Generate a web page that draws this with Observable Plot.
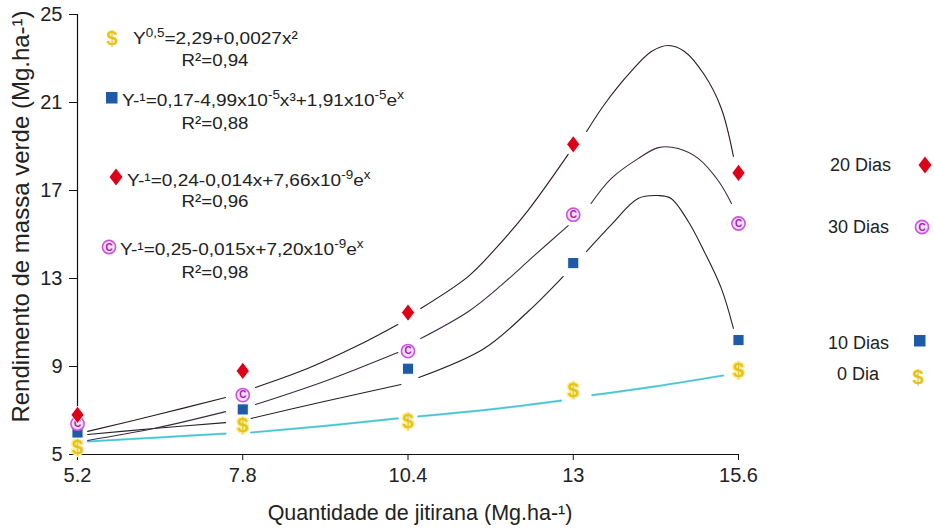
<!DOCTYPE html>
<html><head><meta charset="utf-8">
<script src="https://cdn.jsdelivr.net/npm/d3@7"></script>
<script src="https://cdn.jsdelivr.net/npm/@observablehq/plot@0.6"></script>
<style>
body{margin:0;background:#fff;}
#wrap{position:relative;width:934px;height:530px;font-family:"Liberation Sans",Arial,sans-serif;color:#222;overflow:hidden;}
#wrap svg{display:block}
.eq{position:absolute;font-size:17px;white-space:nowrap;transform-origin:left center;transform:translateY(-50%) scaleX(1.12);line-height:1;}
.eq sup{font-size:12px;position:relative;top:-7px;vertical-align:baseline;line-height:0}
.r2{position:absolute;font-size:17px;white-space:nowrap;transform:translate(-50%,-50%) scaleX(1.1);line-height:1;}
.lg{position:absolute;font-size:18px;white-space:nowrap;transform:translateY(-50%);line-height:1;}
.mk{position:absolute;transform:translate(-50%,-50%);line-height:1;}
.dl{font-weight:bold;color:#e6c21a;font-size:20px;text-shadow:0 0 2px #fbf0a0;}
</style></head>
<body>
<div id="wrap"></div>
<script>
// ---- data ----
const xTicks = [5.2, 7.8, 10.4, 13, 15.6];
const yTicks = [5, 9, 13, 17, 21, 25];
const quantidade = [5.2, 7.8, 10.4, 13, 15.6];
const dia0  = [5.3, 6.3, 6.5, 7.9, 8.8];
const dias10 = [6.0, 7.05, 8.9, 13.7, 10.2];
const dias20 = [6.8, 8.8, 11.45, 19.1, 17.8];
const dias30 = [6.4, 7.7, 9.7, 15.9, 15.5];

// fitted curves (null = break around a marker)
const curve20 = [[5.36,6.05],[6.4,6.77],[7.53,7.59],null,
  [8.0,8.05],[8.82,8.91],[9.61,9.95],[10.24,10.91],null,
  [10.6,11.64],[11.35,13.1],[11.76,14.3],[12.29,16.1],[12.92,18.64],null,
  [13.21,19.68],[13.49,20.91],[13.91,22.41],[14.23,23.32],[14.5,23.59],[14.75,23.32],[15.06,22.27],[15.33,20.73],[15.52,18.55]];
const curve30 = [[5.36,5.64],[6.4,6.18],[7.53,6.95],null,
  [8.0,7.27],[9.08,8.32],[10.24,9.64],null,
  [10.6,10.27],[11.35,11.5],[11.87,12.7],[12.39,14.05],[12.92,15.4],null,
  [13.28,16.41],[13.6,17.55],[14.02,18.45],[14.34,18.95],[14.65,18.91],[14.97,18.45],[15.29,17.41],[15.49,16.41]];
const curve10 = [[5.36,5.91],[6.4,6.18],[7.53,6.45],null,
  [7.93,6.64],[9.08,7.41],[10.29,8.18],null,
  [10.57,8.5],[11.6,9.82],[12.29,11.5],[12.84,13.09],null,
  [13.21,14.23],[13.6,15.45],[14.02,16.64],[14.34,16.77],[14.54,16.64],[14.81,15.59],[15.06,14.23],[15.33,12.55],[15.52,10.73]];
const curve0 = [[5.36,5.59],[6.45,5.77],[7.53,5.95],null,
  [7.93,6.0],[9.1,6.3],[10.24,6.64],null,
  [10.56,6.73],[11.7,7.05],[12.81,7.45],null,
  [13.3,7.7],[14.3,8.1],[15.36,8.59]];

const xLabel = "Quantidade de jitirana (Mg.ha-¹)";
const yLabel = "Rendimento de massa verde (Mg.ha-¹)";

// ---- build ----
const rows = arr => arr.map(p => p ? {x: p[0], y: p[1]} : {x: NaN, y: NaN});
const pts = vals => quantidade.map((q, i) => ({x: q, y: vals[i]}));

const tallDiamond = {
  draw(ctx, size) {
    const r = Math.sqrt(size / Math.PI);
    ctx.moveTo(0, -r * 1.08); ctx.lineTo(r * 0.82, 0);
    ctx.lineTo(0, r * 1.08); ctx.lineTo(-r * 0.82, 0); ctx.closePath();
  }
};

const chart = Plot.plot({
  width: 934, height: 530,
  marginLeft: 77, marginRight: 196, marginTop: 14, marginBottom: 76,
  x: {domain: [5.2, 15.6]},
  y: {domain: [5, 25]},
  style: {fontFamily: '"Liberation Sans", Arial, sans-serif', fontSize: "20px", color: "#222", background: "#fff"},
  marks: [
    Plot.axisX({ticks: xTicks, tickSize: 6, tickPadding: 7, label: null, tickFormat: d => String(d), stroke: "#111"}),
    Plot.axisY({ticks: yTicks, tickSize: 8, tickPadding: 7, label: null, stroke: "#111"}),
    Plot.ruleX([5.2], {stroke: "#111", strokeWidth: 1.2}),
    Plot.ruleY([5], {stroke: "#111", strokeWidth: 1.2}),
    Plot.text([xLabel], {frameAnchor: "bottom", dy: 65, dx: 12, fontSize: 21.5, fill: "#222"}),
    Plot.text([yLabel], {frameAnchor: "left", textAnchor: "middle", lineAnchor: "middle", rotate: -90, dx: -56, dy: -18, fontSize: 24, fill: "#222"}),
    Plot.line(rows(curve0), {x: "x", y: "y", stroke: "#6fdbe6", strokeWidth: 2.2, curve: "catmull-rom"}),
    Plot.line(rows(curve0), {x: "x", y: "y", stroke: "#3aaebb", strokeWidth: 0.7, curve: "catmull-rom"}),
    Plot.line(rows(curve10), {x: "x", y: "y", stroke: "#222", strokeWidth: 1.1, curve: "catmull-rom"}),
    Plot.line(rows(curve30), {x: "x", y: "y", stroke: "#3b2a40", strokeWidth: 1.1, curve: "catmull-rom"}),
    Plot.line(rows(curve20), {x: "x", y: "y", stroke: "#2a1c1c", strokeWidth: 1.1, curve: "catmull-rom"}),
    Plot.text(pts(dia0), {x: "x", y: "y", text: () => "$", fontSize: 20, fontWeight: "bold", fill: "#e6c21a", stroke: "#fbf0a0", strokeWidth: 3, paintOrder: "stroke"}),
    Plot.dot(pts(dias10), {x: "x", y: "y", symbol: "square", r: 6.3, fill: "#1e5aa8", stroke: "#fff", strokeWidth: 1}),
    Plot.dot(pts(dias30), {x: "x", y: "y", r: 6.6, fill: "#f6dcf8", stroke: "#cc55dd", strokeWidth: 1.6}),
    Plot.text(pts(dias30), {x: "x", y: "y", text: () => "C", fontSize: 10, fontWeight: "bold", fill: "#a020b0"}),
    Plot.dot(pts(dias20), {x: "x", y: "y", symbol: tallDiamond, r: 8, fill: "#dd0019", stroke: "#fff", strokeWidth: 0.8})
  ]
});

const wrap = document.getElementById("wrap");
wrap.appendChild(chart);

const diamondSVG = '<svg width="16" height="20" viewBox="-8 -10 16 20"><path d="M0,-8.6L6.5,0L0,8.6L-6.5,0Z" fill="#dd0019"/></svg>';
const squareSVG = '<svg width="13" height="13" viewBox="0 0 13 13"><rect x="0.5" y="0.5" width="11.5" height="11.5" fill="#1e5aa8"/></svg>';
const copySVG = '<svg width="18" height="18" viewBox="-9 -9 18 18"><circle r="6.6" fill="#f6dcf8" stroke="#cc55dd" stroke-width="1.6"/><text text-anchor="middle" dy="3.6" font-size="10" font-weight="bold" fill="#a020b0" font-family="Liberation Sans, Arial">C</text></svg>';
const dollar = '<span class="dl">$</span>';

const overlay = [
  // equations
  ['mk', 112, 38, dollar],
  ['eq', 133, 38, 'Y<sup>0,5</sup>=2,29+0,0027x²'],
  ['r2', 215, 60, 'R²=0,94'],
  ['mk', 112, 98, squareSVG],
  ['eq', 122, 100, 'Y-¹=0,17-4,99x10<sup>-5</sup>x³+1,91x10<sup>-5</sup>e<sup>x</sup>'],
  ['r2', 215, 123, 'R²=0,88'],
  ['mk', 116, 177, diamondSVG],
  ['eq', 127, 180, 'Y-¹=0,24-0,014x+7,66x10<sup>-9</sup>e<sup>x</sup>'],
  ['r2', 215, 201, 'R²=0,96'],
  ['mk', 109, 247, copySVG],
  ['eq', 120, 249, 'Y-¹=0,25-0,015x+7,20x10<sup>-9</sup>e<sup>x</sup>'],
  ['r2', 215, 272, 'R²=0,98'],
  // legend
  ['lg', 830, 165, '20 Dias'],
  ['mk', 925, 165, diamondSVG],
  ['lg', 828, 227, '30 Dias'],
  ['mk', 922, 227, copySVG],
  ['lg', 828, 343, '10 Dias'],
  ['mk', 920, 341, squareSVG],
  ['lg', 837, 374, '0 Dia'],
  ['mk', 918, 377, dollar]
];
for (const [cls, x, y, html] of overlay) {
  const d = document.createElement("div");
  d.className = cls;
  d.style.left = x + "px";
  d.style.top = y + "px";
  d.innerHTML = html;
  wrap.appendChild(d);
}
</script>
</body></html>
